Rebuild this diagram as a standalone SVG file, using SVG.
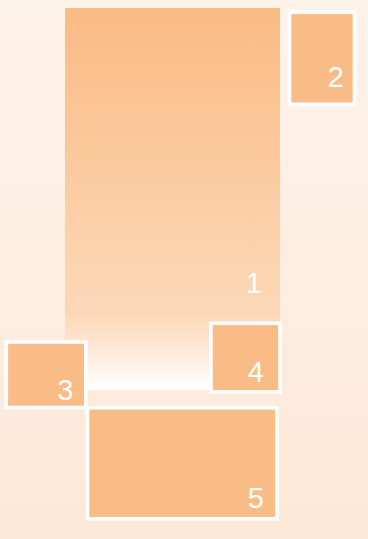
<svg xmlns="http://www.w3.org/2000/svg" width="368" height="539" viewBox="0 0 368 539">
<style>
.box{fill:#fabc86;stroke:#ffffff;stroke-width:3.6}
.lbl{font-family:"Liberation Sans",Arial,sans-serif;font-size:29px;fill:#ffffff;text-anchor:end}
</style>
<defs>
<linearGradient id="bg" x1="0" y1="0" x2="0" y2="1">
<stop offset="0" stop-color="#fef3ea"/>
<stop offset="1" stop-color="#fde8d8"/>
</linearGradient>
<linearGradient id="g1" x1="0" y1="0" x2="0" y2="1">
<stop offset="0" stop-color="#fabb84"/>
<stop offset="0.8" stop-color="#fcd8b7"/>
<stop offset="0.88" stop-color="#fde6d2"/>
<stop offset="1" stop-color="#ffffff"/>
</linearGradient>
</defs>
<rect width="368" height="539" fill="url(#bg)"/>
<g id="connectors"/>
<g id="node1">
<rect x="65" y="8" width="215" height="382" fill="url(#g1)"/>
<text class="lbl" x="262" y="293">1</text>
</g>
<g id="node2">
<rect class="box" x="289.5" y="12.3" width="65" height="92"/>
<text class="lbl" x="344" y="87.3">2</text>
</g>
<g id="node3">
<rect class="box" x="6.3" y="342" width="79.5" height="65.5"/>
<text class="lbl" x="73.5" y="400">3</text>
</g>
<g id="node4">
<rect class="box" x="211" y="323.3" width="69" height="68.6"/>
<text class="lbl" x="264" y="382.3">4</text>
</g>
<g id="node5">
<rect class="box" x="87.5" y="407.8" width="189.5" height="111"/>
<text class="lbl" x="264" y="508.3">5</text>
</g>
</svg>
